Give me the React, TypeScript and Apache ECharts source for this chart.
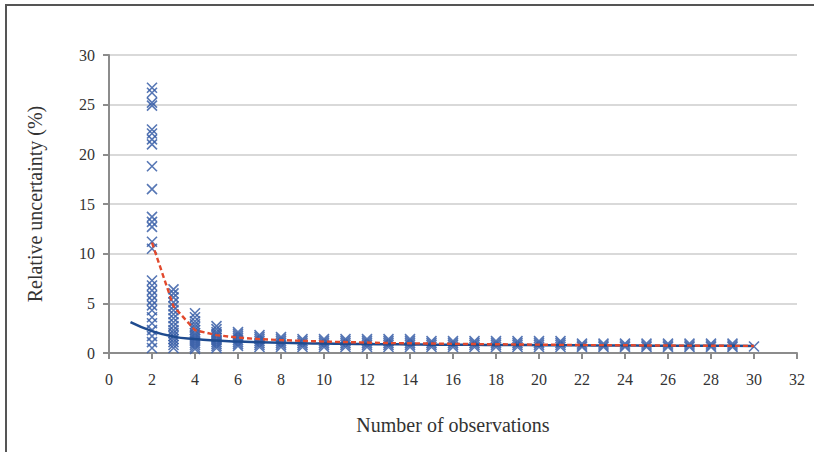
import React, { useEffect, useRef } from "react";
import * as echarts from "echarts";

const xTicks = [0, 32, 2];
const yTicks = [0, 30, 5];

const obs2 = [26.7, 26.2, 25.2, 24.9, 22.5, 22.1, 21.5, 21.0, 18.8, 16.5, 13.7, 13.2, 12.7, 11.2, 10.5, 7.3, 6.8, 6.3, 5.8, 5.3, 4.8, 4.3, 3.6, 3.0, 2.3, 1.7, 1.1, 0.5];
const obs3 = [6.4, 6.0, 5.6, 5.1, 4.7, 4.3, 3.9, 3.5, 3.1, 2.7, 2.3, 2.0, 1.7, 1.4, 1.1, 0.8, 0.5];
const obs4 = [4.0, 3.6, 3.2, 2.9, 2.6, 2.3, 2.0, 1.8, 1.6, 1.4, 1.2, 1.0, 0.8, 0.6, 0.4];
const obs5 = [2.7, 2.4, 2.1, 1.9, 1.7, 1.5, 1.3, 1.1, 0.9, 0.7, 0.5];
const obs6 = [2.1, 1.9, 1.7, 1.5, 1.3, 1.1, 0.9, 0.7];
const obs7 = [1.8, 1.6, 1.4, 1.2, 1.0, 0.8, 0.6];
const obs8 = [1.6, 1.4, 1.2, 1.0, 0.8, 0.6];
const obs9to14 = [1.4, 1.2, 1.0, 0.8, 0.6];
const obs15to21 = [1.2, 1.0, 0.8, 0.6];
const obs22to29 = [0.95, 0.75, 0.6];
const obs30 = [0.65];

const fitX = [1, 2, 3, 4, 5, 6, 7, 8, 9, 10, 11, 12, 13, 14, 15, 16, 17, 18, 19, 20, 21, 22, 23, 24, 25, 26, 27, 28, 29, 30];
const fitY = [3.1, 2.2, 1.65, 1.4, 1.25, 1.15, 1.08, 1.02, 0.98, 0.95, 0.92, 0.9, 0.88, 0.86, 0.84, 0.83, 0.82, 0.81, 0.8, 0.79, 0.78, 0.77, 0.76, 0.75, 0.74, 0.74, 0.73, 0.72, 0.72, 0.71];

const meanX = [2, 3, 4, 5, 6, 7, 8, 9, 10, 11, 12, 13, 14, 15, 16, 17, 18, 19, 20, 21, 22, 23, 24, 25, 26, 27, 28, 29, 30];
const meanY = [11.1, 4.7, 2.3, 1.8, 1.55, 1.4, 1.3, 1.22, 1.15, 1.1, 1.05, 1.0, 0.98, 0.95, 0.92, 0.9, 0.88, 0.86, 0.84, 0.82, 0.8, 0.79, 0.78, 0.76, 0.75, 0.74, 0.73, 0.72, 0.71];

function buildScatter(): number[][] {
  const pts: number[][] = [];
  const add = (x: number, vals: number[]) => vals.forEach((v) => pts.push([x, v]));
  add(2, obs2);
  add(3, obs3);
  add(4, obs4);
  add(5, obs5);
  add(6, obs6);
  add(7, obs7);
  add(8, obs8);
  for (let x = 9; x <= 14; x++) add(x, obs9to14);
  for (let x = 15; x <= 21; x++) add(x, obs15to21);
  for (let x = 22; x <= 29; x++) add(x, obs22to29);
  add(30, obs30);
  return pts;
}

const serif = "Liberation Serif";

export default function App() {
  const ref = useRef<HTMLDivElement>(null);
  useEffect(() => {
    document.body.style.margin = "0";
    if (!ref.current) return;
    const chart = echarts.init(ref.current, undefined, { renderer: "svg" });
    chart.setOption({
      animation: false,
      backgroundColor: "#ffffff",
      textStyle: { fontFamily: serif },
      graphic: [
        {
          type: "rect",
          shape: { x: 6, y: 5, width: 1000, height: 600 },
          style: { fill: "none", stroke: "#555555", lineWidth: 2 },
          silent: true,
        },
      ],
      grid: { left: 109, right: 17, top: 55, bottom: 99, containLabel: false },
      xAxis: {
        type: "value",
        min: xTicks[0],
        max: xTicks[1],
        interval: xTicks[2],
        name: "Number of observations",
        nameLocation: "middle",
        nameGap: 62,
        nameTextStyle: { fontFamily: serif, fontSize: 20, color: "#333333" },
        axisLine: { show: true, lineStyle: { color: "#8c8c8c", width: 2 } },
        axisTick: { show: true, length: 6, lineStyle: { color: "#8c8c8c", width: 2 } },
        axisLabel: { fontFamily: serif, fontSize: 16, color: "#333333", margin: 18 },
        splitLine: { show: false },
      },
      yAxis: {
        type: "value",
        min: yTicks[0],
        max: yTicks[1],
        interval: yTicks[2],
        name: "Relative uncertainty (%)",
        nameLocation: "middle",
        nameGap: 64,
        nameTextStyle: { fontFamily: serif, fontSize: 20, color: "#333333" },
        axisLine: { show: true, lineStyle: { color: "#8c8c8c", width: 2 } },
        axisTick: { show: true, length: 6, lineStyle: { color: "#8c8c8c", width: 2 } },
        axisLabel: { fontFamily: serif, fontSize: 16, color: "#333333", margin: 14 },
        splitLine: { show: true, lineStyle: { color: "#d9d9d9", width: 2 } },
      },
      series: [
        {
          type: "scatter",
          data: buildScatter(),
          symbol: "path://M0,0L10,10M10,0L0,10",
          symbolSize: 10,
          itemStyle: { color: "transparent", borderColor: "#3a5fa8", borderWidth: 1.6, opacity: 0.85 },
          z: 2,
        },
        {
          type: "line",
          data: fitX.map((x, i) => [x, fitY[i]]),
          smooth: true,
          showSymbol: false,
          lineStyle: { color: "#1f4b8f", width: 2.5 },
          z: 3,
        },
        {
          type: "line",
          data: meanX.map((x, i) => [x, meanY[i]]),
          smooth: false,
          showSymbol: false,
          lineStyle: { color: "#e2492d", width: 2.4, type: [5, 3] },
          z: 4,
        },
      ],
    });
    return () => chart.dispose();
  }, []);
  return <div ref={ref} style={{ width: 814, height: 452 }} />;
}
